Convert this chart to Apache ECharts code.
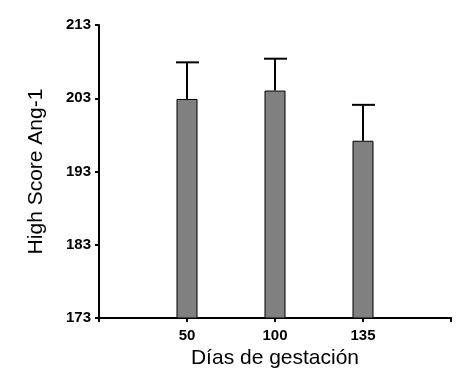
<!DOCTYPE html>
<html>
<head>
<meta charset="utf-8">
<script src="https://cdn.jsdelivr.net/npm/echarts@6/dist/echarts.min.js"></script>
<style>
html,body{margin:0;padding:0;background:#fff;}
#chart{width:472px;height:380px;}
</style>
</head>
<body>
<div id="chart"></div>
<script>
var categories = ['', '50', '100', '135', ''];
var means = [null, 202.9, 204.05, 197.2, null];
var errorTops = [null, 207.9, 208.4, 202.1, null];
var yTicks = [173, 183, 193, 203, 213];

var chart = echarts.init(document.getElementById('chart'));

var barData = means.map(function (v) { return v === null ? '-' : v; });
var errData = [];
means.forEach(function (v, i) {
  if (v !== null) errData.push([i, v, errorTops[i]]);
});

var font = 'Arial, "Liberation Sans", sans-serif';

chart.setOption({
  animation: false,
  backgroundColor: '#fff',
  grid: { left: 99, right: 21, top: 25, bottom: 62, outerBoundsMode: 'none', containLabel: false },
  xAxis: {
    type: 'category',
    data: categories,
    boundaryGap: false,
    name: 'Días de gestación',
    nameLocation: 'middle',
    nameGap: 30,
    nameMoveOverlap: false,
    nameTextStyle: { fontFamily: font, fontSize: 21, color: '#000' },
    axisLine: { lineStyle: { color: '#000', width: 2 } },
    axisTick: { show: true, length: 4, lineStyle: { color: '#000', width: 2 } },
    axisLabel: { fontFamily: font, fontSize: 15, fontWeight: 'bold', color: '#000', margin: 10 },
    splitLine: { show: false }
  },
  yAxis: {
    type: 'value',
    min: yTicks[0],
    max: yTicks[yTicks.length - 1],
    interval: 10,
    name: 'High Score Ang-1',
    nameLocation: 'middle',
    nameGap: 52,
    nameMoveOverlap: false,
    nameTextStyle: { fontFamily: font, fontSize: 21, color: '#000' },
    axisLine: { show: true, lineStyle: { color: '#000', width: 2 } },
    axisTick: { show: true, length: 4, lineStyle: { color: '#000', width: 2 } },
    axisLabel: { fontFamily: font, fontSize: 15, fontWeight: 'bold', color: '#000', margin: 8 },
    splitLine: { show: false }
  },
  series: [
    {
      type: 'custom',
      data: errData,
      z: 1,
      renderItem: function (params, api) {
        var x = api.value(0);
        var lo = api.coord([x, api.value(1)]);
        var hi = api.coord([x, api.value(2)]);
        var cx = lo[0];
        return {
          type: 'group',
          children: [
            { type: 'line', shape: { x1: cx, y1: lo[1], x2: cx, y2: hi[1] }, style: { stroke: '#000', lineWidth: 2 } },
            { type: 'line', shape: { x1: cx - 11, y1: hi[1], x2: cx + 12, y2: hi[1] }, style: { stroke: '#000', lineWidth: 2 } }
          ]
        };
      }
    },
    {
      type: 'bar',
      data: barData,
      barWidth: 21,
      z: 2,
      itemStyle: { color: '#808080', borderColor: '#000', borderWidth: 1 }
    }
  ]
});
</script>
</body>
</html>
